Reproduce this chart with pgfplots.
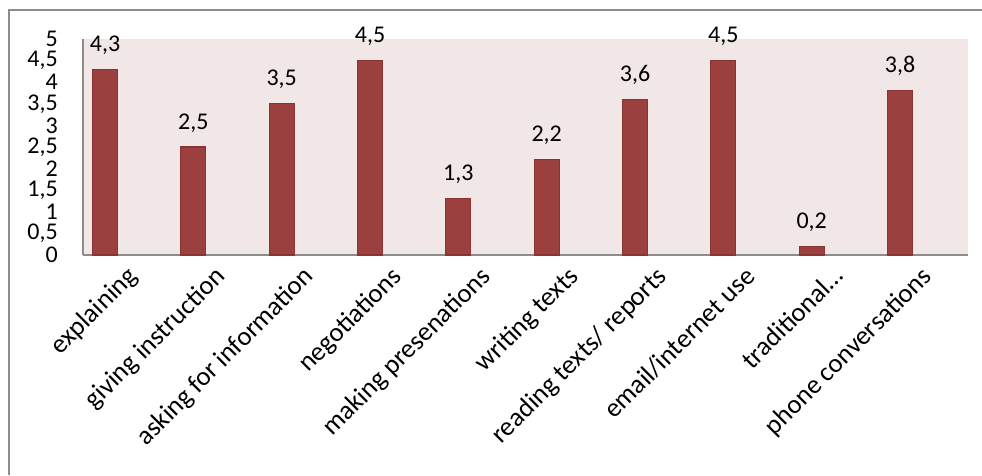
\documentclass[border=0pt]{standalone}
\usepackage{pgfplots}
\pgfplotsset{compat=1.18}
\usepackage{fontspec}
\setmainfont{Carlito}
\definecolor{barfill}{HTML}{9C3F3F}
\definecolor{bardraw}{HTML}{8A3333}
\definecolor{plotbg}{HTML}{F2E7E7}
\definecolor{framegray}{HTML}{8C8C8C}
\begin{document}
\begin{tikzpicture}
\useasboundingbox (0pt,0pt) rectangle (736.5pt,356.25pt);
\draw[framegray, line width=1.5pt] (6.75pt,0pt) -- (6.75pt,348.75pt) -- (736.5pt,348.75pt);
\begin{axis}[
  at={(62.25pt,165pt)}, anchor=south west,
  scale only axis, width=663.75pt, height=162pt,
  xmin=-0.25, xmax=9.77, ymin=0, ymax=5,
  ytick={0,0.5,...,5},
  xtick={0,...,9},
  xticklabels={explaining,giving instruction,asking for information,negotiations,making presenations,writing texts,reading texts/ reports,email/internet use,traditional\ldots,phone conversations},
  xticklabel style={font=\fontsize{20}{20}\selectfont, inner sep=0pt, xshift=25pt, yshift=-17pt, rotate=45, anchor=base east},
  yticklabel style={font=\fontsize{18}{18}\selectfont, inner sep=0pt, xshift=-18.75pt},
  /pgf/number format/assume math mode=true,
  /pgf/number format/use comma,
  major tick length=0pt,
  axis background/.style={fill=plotbg},
  axis x line*=bottom, axis y line*=left,
  x axis line style={framegray, line width=1.5pt, -},
  y axis line style={framegray, line width=1.2pt, -},
  ybar, bar width=18.75pt,
  nodes near coords,
  nodes near coords style={font=\fontsize{18}{18}\selectfont, /pgf/number format/fixed, /pgf/number format/precision=1, /pgf/number format/use comma, inner sep=0pt, anchor=base, yshift=13.5pt},
  clip=false,
]
\addplot[fill=barfill, draw=bardraw, line width=0.8pt] coordinates {
(0,4.3) (1,2.5) (2,3.5) (3,4.5) (4,1.3) (5,2.2) (6,3.6) (7,4.5) (8,0.2) (9,3.8)};
\end{axis}
\end{tikzpicture}
\end{document}
